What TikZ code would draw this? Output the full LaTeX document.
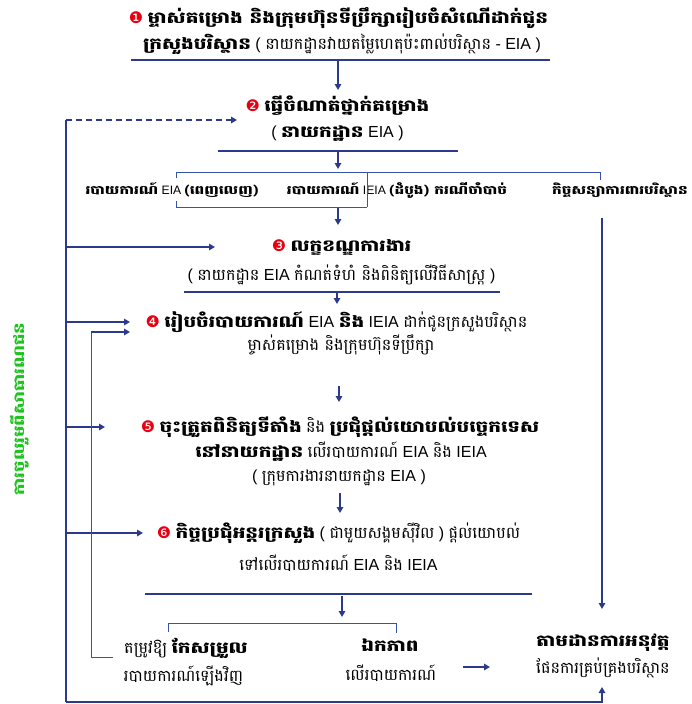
\documentclass[tikz,border=0pt]{standalone}
\usepackage{fontspec}
\setmainfont{Liberation Sans}
\newfontfamily\kh[Script=Khmer, BoldFeatures={FakeStretch=1.25}]{Battambang}
\newfontfamily\djv{DejaVu Sans}
\usetikzlibrary{arrows.meta}
\definecolor{navy}{HTML}{2B3A8C}
\definecolor{brkc}{HTML}{3552AE}
\definecolor{grn}{HTML}{1DC41D}
\definecolor{rd}{HTML}{E60012}
\newcommand{\K}[1]{{\kh #1}}
\newcommand{\KB}[1]{{\kh\bfseries #1}}
\newcommand{\cnum}[1]{{\djv\color{rd}#1}}
\begin{document}
\begin{tikzpicture}[x=1pt,y=-1pt,
  txt/.style={inner sep=0pt, anchor=center, font=\fontsize{16}{19}\selectfont, text=black},
  rowtxt/.style={txt, font=\fontsize{12.2}{15}\selectfont},
  bar/.style={navy, line width=2.4pt},
  arr/.style={navy, line width=1.7pt, -{Triangle[length=6pt,width=6.5pt]}},
  brkline/.style={brkc, line width=0.9pt},
  loopline/.style={navy, line width=1.6pt},
  thinloop/.style={brkc, line width=1pt}]
\useasboundingbox (0,0) rectangle (692,704);
% ---- texts
\node[txt] (t1a) at (338.5,18) {\cnum{❶} \KB{ម្ចាស់គម្រោង និងក្រុមហ៊ុនទីប្រឹក្សារៀបចំសំណើដាក់ជូន}};
\node[txt] (t1b) at (342,44) {\KB{ក្រសួងបរិស្ថាន} ( \K{នាយកដ្ឋានវាយតម្លៃហេតុប៉ះពាល់បរិស្ថាន} - EIA )};
\node[txt] (t2a) at (337.5,106) {\cnum{❷} \KB{ធ្វើចំណាត់ថ្នាក់គម្រោង}};
\node[txt] (t2b) at (337.5,134) {( \KB{នាយកដ្ឋាន} EIA )};
\node[rowtxt] (r1) at (172,190) {\KB{របាយការណ៍} EIA \KB{(ពេញលេញ)}};
\node[rowtxt] (r2) at (397,190) {\KB{របាយការណ៍} IEIA \KB{(ដំបូង) ករណីចាំបាច់}};
\node[rowtxt] (r3) at (620,190) {\KB{កិច្ចសន្យាការពារបរិស្ថាន}};
\node[txt] (t3a) at (341.5,247) {\cnum{❸} \KB{លក្ខខណ្ឌការងារ}};
\node[txt] (t3b) at (341.5,275) {( \K{នាយកដ្ឋាន} EIA \K{កំណត់ទំហំ និងពិនិត្យលើវិធីសាស្ត្រ} )};
\node[txt] (t4a) at (336.5,322) {\cnum{❹} \KB{រៀបចំរបាយការណ៍} EIA \KB{និង} IEIA \K{ដាក់ជូនក្រសួងបរិស្ថាន}};
\node[txt] (t4b) at (341,345) {\K{ម្ចាស់គម្រោង និងក្រុមហ៊ុនទីប្រឹក្សា}};
\node[txt] (t5a) at (340,427) {\cnum{❺} \KB{ចុះត្រួតពិនិត្យទីតាំង} \K{និង} \KB{ប្រជុំផ្តល់យោបល់បច្ចេកទេស}};
\node[txt] (t5b) at (341,452) {\KB{នៅនាយកដ្ឋាន} \K{លើរបាយការណ៍} EIA \K{និង} IEIA};
\node[txt] (t5c) at (339,478) {( \K{ក្រុមការងារនាយកដ្ឋាន} EIA )};
\node[txt] (t6a) at (338.5,533) {\cnum{❻} \KB{កិច្ចប្រជុំអន្តរក្រសួង} ( \K{ជាមួយសង្គមស៊ីវិល} ) \K{ផ្តល់យោបល់}};
\node[txt] (t6b) at (338.5,563) {\K{ទៅលើរបាយការណ៍} EIA \K{និង} IEIA};
\node[txt] (b1a) at (186,648) {\K{តម្រូវឱ្យ} \KB{កែសម្រួល}};
\node[txt] (b1b) at (183.5,676) {\K{របាយការណ៍ឡើងវិញ}};
\node[txt] (b2a) at (390,645) {\KB{ឯកភាព}};
\node[txt] (b2b) at (391,673) {\K{លើរបាយការណ៍}};
\node[txt] (b3a) at (603,643) {\KB{តាមដានការអនុវត្ត}};
\node[txt] (b3b) at (603,668) {\K{ផែនការគ្រប់គ្រងបរិស្ថាន}};
\node[txt, font=\fontsize{14.5}{17}\selectfont, rotate=90, text=grn] (pp) at (20,409) {\KB{ការចូលរួមពីសាធារណជន}};
% ---- coordinates
\coordinate (L) at (66,120);
\coordinate (Lb) at (66,702);
\coordinate (Rb) at (602,702);
\coordinate (Rt) at (602,218);
\coordinate (I) at (91,332);
\coordinate (Ib) at (91,657);
\coordinate (Ie) at (113,657);
% ---- bars
\draw[bar] (131,60) -- (550,60);
\draw[bar] (218,151) -- (458,151);
\draw[bar] (184,292) -- (500,292);
\draw[bar] (145,594) -- (532,594);
% ---- bracket (row)
\draw[brkline] (176,178) -- (176,172) -- (600,172) -- (600,180);
\draw[brkline] (367,172) -- (367,207);
\draw[brkline] (176,201) -- (176,207) -- (367,207);
% ---- bracket (bottom)
\draw[brkline] (168,632) -- (168,623) -- (396,623) -- (396,633);
% ---- vertical arrows
\draw[arr] (338,61) -- (338,90);
\draw[arr] (338,152) -- (338,169);
\draw[arr] (338,208) -- (338,225);
\draw[arr] (337,293) -- (337,304);
\draw[arr] (339,386) -- (339,402);
\draw[arr] (340,493) -- (340,513);
\draw[arr] (342,596) -- (342,617);
\draw[arr] (Rt) -- (602,609);
% ---- loops
\draw[arr, dashed, dash pattern=on 6pt off 4pt] (L) -- (237,120);
\draw[loopline] (L) -- (Lb);
\draw[arr] (Lb) -- (Rb) -- (602,687);
\draw[arr] (66,247) -- (215,247);
\draw[arr] (66,322) -- (130,322);
\draw[arr] (66,427) -- (105,427);
\draw[arr] (66,533) -- (143,533);
\draw[thinloop] (Ie) -- (Ib) -- (I);
\draw[arr] (I) -- (130,332);
\draw[arr] (463,667) -- (490,667);
\end{tikzpicture}
\end{document}
